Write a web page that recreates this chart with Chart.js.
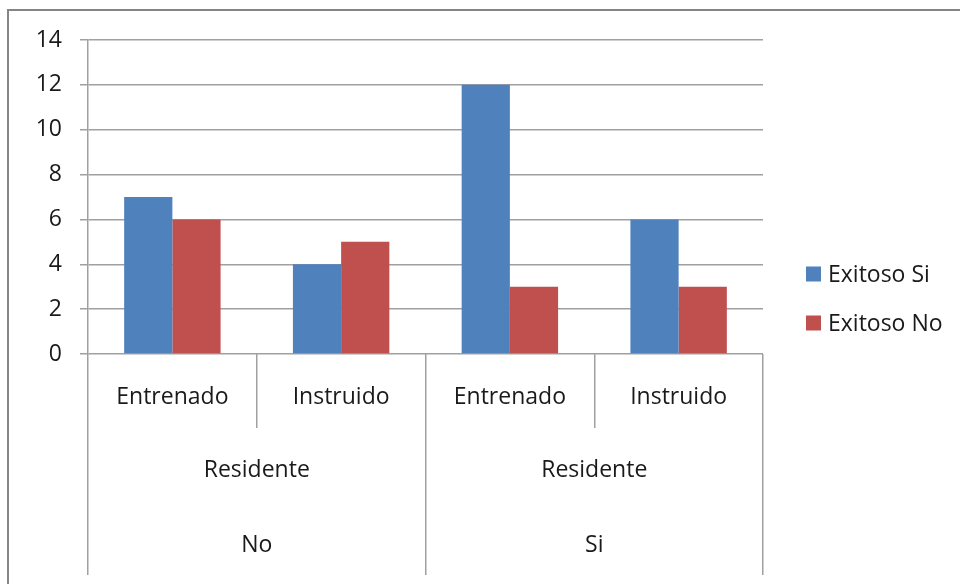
<!DOCTYPE html>
<html lang="es">
<head>
<meta charset="utf-8">
<title>Exitoso por entrenamiento y residencia</title>
<script src="https://cdn.jsdelivr.net/npm/chart.js@4/dist/chart.umd.min.js"></script>
<style>
  html, body { margin: 0; padding: 0; background: #ffffff; }
  canvas { display: block; }
</style>
</head>
<body>
<canvas id="chart" width="960" height="584"></canvas>
<script>
// Category levels, innermost first
const subCategories = ['Entrenado', 'Instruido', 'Entrenado', 'Instruido'];
const residentLabels = ['Residente', 'Residente'];
const residentGroups = ['No', 'Si'];

// Series values
const seriesNames = ['Exitoso Si', 'Exitoso No'];
const exitosoSi = [7, 4, 12, 6];
const exitosoNo = [6, 5, 3, 3];

// Value axis ticks
const yTicks = [0, 2, 4, 6, 8, 10, 12, 14];

const FONT = { family: '"Open Sans", "DejaVu Sans", sans-serif', size: 23 };
const TEXT = '#1a1a1a';
const LINE = '#a0a0a0';

// Frame around the whole chart
const framePlugin = {
  id: 'frame',
  beforeDraw(chart) {
    const ctx = chart.ctx;
    ctx.save();
    ctx.strokeStyle = '#858585';
    ctx.lineWidth = 2;
    ctx.strokeRect(8, 10, chart.width + 20, chart.height + 20);
    ctx.restore();
  }
};

// Legend to the right of the plot, built from the datasets
const sideLegend = {
  id: 'sideLegend',
  afterDraw(chart) {
    const ctx = chart.ctx;
    ctx.save();
    ctx.font = FONT.size + 'px ' + FONT.family;
    ctx.textBaseline = 'middle';
    ctx.textAlign = 'left';
    chart.data.datasets.forEach((ds, i) => {
      const cy = 274 + i * 49;
      ctx.fillStyle = ds.backgroundColor;
      ctx.fillRect(806, cy - 7.5, 15, 15);
      ctx.fillStyle = TEXT;
      ctx.fillText(ds.label, 828, cy + 1);
    });
    ctx.restore();
  }
};

new Chart(document.getElementById('chart'), {
  type: 'bar',
  data: {
    labels: subCategories,
    datasets: [
      { label: seriesNames[0], data: exitosoSi, backgroundColor: '#4F81BD' },
      { label: seriesNames[1], data: exitosoNo, backgroundColor: '#C0504D' }
    ]
  },
  options: {
    responsive: false,
    animation: false,
    layout: { padding: { left: 8, top: 40, right: 197, bottom: 0 } },
    datasets: { bar: { barPercentage: 1, categoryPercentage: 2 / 3.5 } },
    plugins: {
      legend: { display: false },
      tooltip: { enabled: false }
    },
    scales: {
      y: {
        min: 0,
        max: 14,
        afterBuildTicks(scale) { scale.ticks = yTicks.map(v => ({ value: v })); },
        afterFit(scale) { scale.width = 80; },
        ticks: { font: FONT, color: TEXT, padding: 18 },
        grid: { color: LINE, lineWidth: 1.5, tickLength: 8 },
        border: { color: LINE, width: 1.5 }
      },
      x: {
        weight: 0,
        afterFit(scale) { scale.height = 74; },
        ticks: { font: FONT, color: TEXT, padding: -44, maxRotation: 0, autoSkip: false },
        grid: { offset: true, drawOnChartArea: false, color: LINE, lineWidth: 1.5, tickLength: 74 },
        border: { display: false }
      },
      x2: {
        type: 'category',
        position: 'bottom',
        weight: 1,
        labels: residentLabels,
        offset: true,
        afterFit(scale) { scale.height = 77; },
        ticks: { font: FONT, color: TEXT, padding: -48, maxRotation: 0, autoSkip: false },
        grid: { offset: true, drawOnChartArea: false, color: LINE, lineWidth: 1.5, tickLength: 77 },
        border: { display: false }
      },
      x3: {
        type: 'category',
        position: 'bottom',
        weight: 2,
        labels: residentGroups,
        offset: true,
        afterFit(scale) { scale.height = 79; },
        ticks: { font: FONT, color: TEXT, padding: -43, maxRotation: 0, autoSkip: false },
        grid: { offset: true, drawOnChartArea: false, color: LINE, lineWidth: 1.5, tickLength: 70 },
        border: { display: false }
      }
    }
  },
  plugins: [framePlugin, sideLegend]
});
</script>
</body>
</html>
